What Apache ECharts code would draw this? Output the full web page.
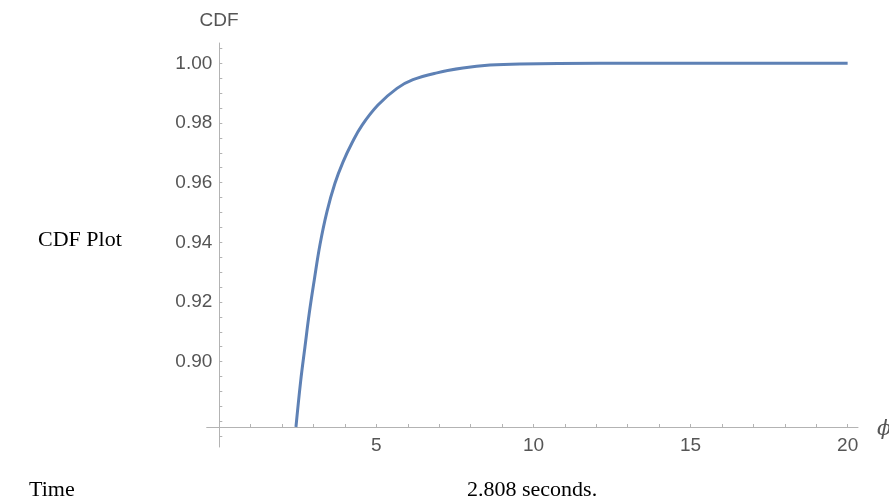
<!DOCTYPE html>
<html>
<head>
<meta charset="utf-8">
<script src="https://cdn.jsdelivr.net/npm/echarts@6/dist/echarts.min.js"></script>
<style>html,body{margin:0;padding:0;background:#fff;}#c{width:889px;height:501px;}</style>
</head>
<body>
<div id="c"></div>
<script>
// Data
var phiValues = [2.441, 2.591, 2.728, 2.864, 3.024, 3.205, 3.428, 3.682, 3.937, 4.223, 4.542, 5.051, 5.656, 6.165, 6.929, 7.756, 8.616, 9.570, 12.11, 20];
var cdfValues = [0.8781, 0.8935, 0.9050, 0.9162, 0.9274, 0.9392, 0.9503, 0.9598, 0.9669, 0.9733, 0.9792, 0.9860, 0.9916, 0.9945, 0.9968, 0.9984, 0.9994, 0.9998, 1.0, 1.0];
var xTickLabels = [5, 10, 15, 20];
var xTicks = [1, 2, 3, 4, 5, 6, 7, 8, 9, 10, 11, 12, 13, 14, 15, 16, 17, 18, 19, 20];
var yTickLabels = [0.90, 0.92, 0.94, 0.96, 0.98, 1.00];
var yTicks = [0.875, 0.88, 0.885, 0.89, 0.895, 0.90, 0.905, 0.91, 0.915, 0.92, 0.925, 0.93, 0.935, 0.94, 0.945, 0.95, 0.955, 0.96, 0.965, 0.97, 0.975, 0.98, 0.985, 0.99, 0.995, 1.00, 1.005];
var xMin = -0.4, xMax = 20.33;
var yCross = 0.8781, yTop = 1.0068, yBottom = 0.8714;

var seriesData = phiValues.map(function (x, i) { return [x, cdfValues[i]]; });

var axisColor = '#b3b3b3';
var labelColor = '#555555';
var sans = 'Liberation Sans';

var chart = echarts.init(document.getElementById('c'), null, {renderer: 'canvas'});
chart.setOption({
  animation: false,
  backgroundColor: '#ffffff',
  grid: [
    {left: 206.7, right: 31, top: 43, bottom: 74},
    {left: 219.3, right: 31, top: 43, bottom: 54}
  ],
  xAxis: [
    {
      type: 'value', gridIndex: 0, min: xMin, max: xMax,
      axisLine: {show: true, onZero: false, lineStyle: {color: axisColor, width: 1}},
      axisTick: {show: true, inside: true, length: 3, customValues: xTicks, lineStyle: {color: axisColor}},
      axisLabel: {show: true, margin: 9, customValues: xTickLabels, color: labelColor, fontFamily: sans, fontSize: 19},
      splitLine: {show: false}
    },
    {
      type: 'value', gridIndex: 1, min: xMin, max: xMax, show: false
    }
  ],
  yAxis: [
    {
      type: 'value', gridIndex: 0, min: yCross, max: yTop, show: false
    },
    {
      type: 'value', gridIndex: 1, min: yBottom, max: yTop,
      axisLine: {show: true, onZero: false, lineStyle: {color: axisColor, width: 1}},
      axisTick: {show: true, inside: true, length: 3, customValues: yTicks, lineStyle: {color: axisColor}},
      axisLabel: {show: true, margin: 7, customValues: yTickLabels, color: labelColor, fontFamily: sans, fontSize: 19,
        formatter: function (v) { return v.toFixed(2); }},
      splitLine: {show: false}
    }
  ],
  series: [
    {
      type: 'line', xAxisIndex: 0, yAxisIndex: 0,
      data: seriesData, smooth: 0.4, showSymbol: false, clip: false,
      lineStyle: {color: '#5e81b5', width: 3}
    }
  ],
  graphic: [
    {type: 'text', left: 199.5, top: 11, style: {text: 'CDF', fill: labelColor, font: '19px "Liberation Sans"'}},
    {type: 'text', left: 877, top: 419, style: {text: 'ϕ', fill: labelColor, font: 'italic 21px "DejaVu Serif"'}},
    {type: 'text', left: 38, top: 229, style: {text: 'CDF Plot', fill: '#000', font: '22px "Liberation Serif"'}},
    {type: 'text', left: 29, top: 479, style: {text: 'Time', fill: '#000', font: '22px "Liberation Serif"'}},
    {type: 'text', left: 467, top: 479, style: {text: '2.808 seconds.', fill: '#000', font: '22px "Liberation Serif"'}}
  ]
});
</script>
</body>
</html>
